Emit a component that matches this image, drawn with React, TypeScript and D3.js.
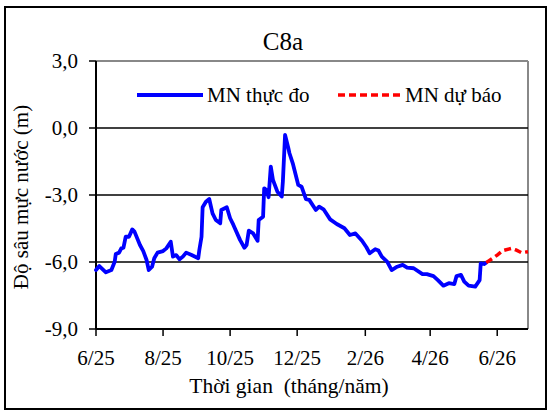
import React from "react";
import * as d3 from "d3";

const observedDates = [
  "2025-06-01","2025-06-04","2025-06-10","2025-06-15","2025-06-18","2025-06-19","2025-06-22","2025-06-24","2025-06-26","2025-06-28",
  "2025-07-01","2025-07-04","2025-07-06","2025-07-11","2025-07-14","2025-07-17","2025-07-19","2025-07-22","2025-07-24","2025-07-27",
  "2025-08-01","2025-08-04","2025-08-08","2025-08-10","2025-08-13","2025-08-16","2025-08-19","2025-08-22","2025-08-27",
  "2025-09-02","2025-09-03","2025-09-05","2025-09-06","2025-09-09","2025-09-12","2025-09-15","2025-09-18","2025-09-22","2025-09-23","2025-09-28",
  "2025-10-01","2025-10-04","2025-10-10","2025-10-14","2025-10-16","2025-10-18","2025-10-22","2025-10-26","2025-10-27","2025-10-31",
  "2025-11-01","2025-11-03","2025-11-05","2025-11-07","2025-11-09","2025-11-13","2025-11-17","2025-11-18","2025-11-20","2025-11-23","2025-11-24","2025-11-27",
  "2025-12-02","2025-12-05","2025-12-09","2025-12-12","2025-12-18","2025-12-21","2025-12-25","2025-12-31",
  "2026-01-06","2026-01-13","2026-01-18","2026-01-23","2026-01-29",
  "2026-02-02","2026-02-05","2026-02-10","2026-02-13","2026-02-16","2026-02-21","2026-02-25",
  "2026-03-02","2026-03-07","2026-03-11","2026-03-17","2026-03-25","2026-03-29",
  "2026-04-04","2026-04-08","2026-04-13","2026-04-18","2026-04-23","2026-04-25","2026-04-29",
  "2026-05-02","2026-05-06","2026-05-12","2026-05-16","2026-05-17","2026-05-20","2026-05-22"
];
const observedValues = [
  -6.36,-6.18,-6.46,-6.36,-5.99,-5.64,-5.58,-5.39,-5.36,-4.87,
  -4.87,-4.54,-4.64,-5.24,-5.51,-5.91,-6.36,-6.21,-5.83,-5.58,
  -5.51,-5.39,-5.09,-5.76,-5.69,-5.88,-5.76,-5.58,-5.69,
  -5.83,-5.46,-4.87,-3.55,-3.30,-3.18,-3.82,-4.12,-4.27,-3.67,-3.55,
  -4.04,-4.34,-5.01,-5.36,-5.24,-4.60,-4.72,-5.05,-4.12,-3.97,
  -2.70,-2.78,-3.10,-1.73,-2.33,-2.85,-3.07,-2.40,-0.31,-0.91,-1.13,-1.58,
  -2.55,-2.63,-3.19,-3.22,-3.67,-3.52,-3.64,-4.09,
  -4.30,-4.49,-4.79,-4.72,-5.05,
  -5.34,-5.61,-5.43,-5.49,-5.76,-5.99,-6.36,
  -6.21,-6.13,-6.25,-6.28,-6.54,-6.54,
  -6.63,-6.81,-7.06,-6.95,-6.99,-6.63,-6.58,
  -6.88,-7.06,-7.10,-6.81,-6.06,-6.09,-6.03
];
const forecastDates = ["2026-05-22","2026-06-01","2026-06-06","2026-06-14","2026-06-18","2026-06-23","2026-06-29"];
const forecastValues = [-6.03,-5.69,-5.49,-5.39,-5.46,-5.58,-5.54];

const yTicks = [3, 0, -3, -6, -9];
const gridValues = [0, -3, -6];
const xTickDates = ["2025-06-01","2025-08-01","2025-10-01","2025-12-01","2026-02-01","2026-04-01","2026-06-01"];
const xTickLabels = ["6/25","8/25","10/25","12/25","2/26","4/26","6/26"];
const xDomain = ["2025-06-01", "2026-06-29"];

const title = "C8a";
const yTitle = "Độ sâu mực nước (m)";
const xTitle = "Thời gian\u00a0 (tháng/năm)";
const seriesNames = ["MN thực đo", "MN dự báo"];

const parse = d3.timeParse("%Y-%m-%d");

export default function App() {
  const W = 552, H = 414;
  const L = 96, R = 528, T = 61, B = 329;
  const x = d3.scaleTime().domain(xDomain.map((s) => parse(s) as Date)).range([L, R]);
  const y = d3.scaleLinear().domain([-9, 3]).range([B, T]);
  const F = "Liberation Serif";

  const obs = observedDates.map((d, i) => ({ d: parse(d) as Date, v: observedValues[i] }));
  const fc = forecastDates.map((d, i) => ({ d: parse(d) as Date, v: forecastValues[i] }));
  const line = d3.line<{ d: Date; v: number }>().x((p) => x(p.d)).y((p) => y(p.v));

  return (
    <svg width={W} height={H} style={{ position: "absolute", left: 0, top: 0, background: "#fff" }}>
      <rect x={0} y={0} width={W} height={H} fill="#fff" />
      <rect x={5} y={7} width={541} height={402} fill="#fff" stroke="#000" strokeWidth={2} />
      <text x={283} y={50} fontSize={25} textAnchor="middle" fontFamily={F}>{title}</text>
      <line x1={L} x2={R} y1={T} y2={T} stroke="#888" strokeWidth={2} />
      <line x1={R} x2={R} y1={T} y2={B} stroke="#888" strokeWidth={2} />
      {gridValues.map((g) => (
        <line key={g} x1={L} x2={R} y1={y(g)} y2={y(g)} stroke="#000" strokeWidth={1.5} />
      ))}
      <line x1={L} x2={L} y1={T} y2={B} stroke="#000" strokeWidth={2} />
      <line x1={L} x2={R} y1={B} y2={B} stroke="#000" strokeWidth={2} />
      {yTicks.map((t) => (
        <g key={t}>
          <line x1={L - 7} x2={L} y1={y(t)} y2={y(t)} stroke="#000" strokeWidth={1.5} />
          <text x={78} y={y(t) + 7} fontSize={21} textAnchor="end" fontFamily={F}>{d3.format(".1f")(t).replace(".", ",").replace("−", "-")}</text>
        </g>
      ))}
      {xTickDates.map((s, i) => {
        const px = x(parse(s) as Date);
        return (
          <g key={s}>
            <line x1={px} x2={px} y1={B} y2={B + 7} stroke="#000" strokeWidth={1.5} />
            <text x={px} y={365} fontSize={21} textAnchor="middle" fontFamily={F}>{xTickLabels[i]}</text>
          </g>
        );
      })}
      <path d={line(obs) || ""} fill="none" stroke="#0000ff" strokeWidth={3.8} strokeLinejoin="round" strokeLinecap="round" />
      <path d={line(fc) || ""} fill="none" stroke="#ff0000" strokeWidth={3.5} strokeDasharray="7,4" />
      <line x1={137} x2={203} y1={95} y2={95} stroke="#0000ff" strokeWidth={3.8} />
      <text x={207} y={102} fontSize={21} fontFamily={F}>{seriesNames[0]}</text>
      <line x1={338} x2={400} y1={95} y2={95} stroke="#ff0000" strokeWidth={3.5} strokeDasharray="7,4" />
      <text x={405} y={102} fontSize={21} fontFamily={F}>{seriesNames[1]}</text>
      <text x={289} y={393} fontSize={21.5} textAnchor="middle" fontFamily={F}>{xTitle}</text>
      <text transform={`translate(28,197) rotate(-90)`} fontSize={21} textAnchor="middle" fontFamily={F}>{yTitle}</text>
    </svg>
  );
}
